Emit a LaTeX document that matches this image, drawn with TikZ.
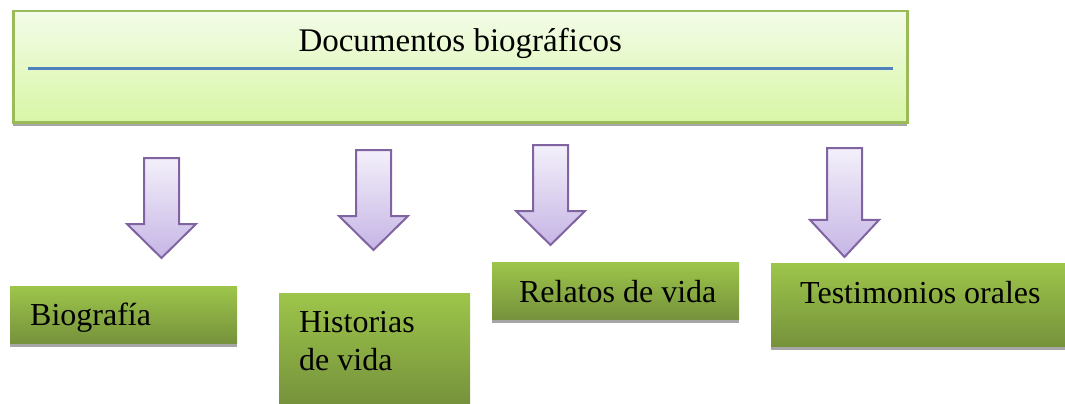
\documentclass[tikz,border=0pt]{standalone}
\usepackage{fontspec}
\setmainfont{Liberation Serif}
\usetikzlibrary{positioning,shadows}

\definecolor{verdeborde}{HTML}{9BBB59}
\definecolor{verdeclaroA}{HTML}{F3FCE8}
\definecolor{verdeclaroB}{HTML}{D8F6A6}
\definecolor{verdeA}{HTML}{9DC54A}
\definecolor{verdeB}{HTML}{76923C}
\definecolor{lilaborde}{HTML}{8064A2}
\definecolor{lilaA}{HTML}{F3F0FA}
\definecolor{lilaB}{HTML}{C6B5E5}
\definecolor{azullinea}{HTML}{4F81BD}
\definecolor{grissombra}{HTML}{A6A6A6}

\begin{document}
\begin{tikzpicture}[%
    x=1pt,
    y=1pt,
    sombra/.style={
      drop shadow={shadow xshift=0pt, shadow yshift=-4pt, fill=grissombra, opacity=1}
    },
    titulo/.style={
      rectangle,
      draw=verdeborde,
      line width=2.5pt,
      top color=verdeclaroA,
      bottom color=verdeclaroB,
      minimum width=894pt,
      minimum height=111pt,
      inner sep=0pt,
      anchor=north west,
      sombra
    },
    caja/.style={
      rectangle,
      top color=verdeA,
      bottom color=verdeB,
      inner sep=0pt,
      anchor=north west
    },
    texto/.style={
      inner sep=0pt,
      anchor=base west,
      align=left,
      font=\fontsize{32}{38}\selectfont
    },
    flecha/.pic={
      \path[draw=lilaborde, line width=2pt, top color=lilaA, bottom color=lilaB]
        (-17.5,0) -- (17.5,0) -- (17.5,-66) -- (34.5,-66) -- (0,-100)
        -- (-34.5,-66) -- (-17.5,-66) -- cycle;
    }
  ]
  \useasboundingbox (0,0) rectangle (1065,-404);

  % caja superior
  \node[titulo] (doc) at (12,-10) {};
  \node[texto, anchor=base, font=\fontsize{33}{38}\selectfont] (tdoc)
    at ([yshift=-42]doc.north) {Documentos biogr\'aficos};
  \draw[azullinea, line width=3pt]
    ([xshift=16,yshift=-59]doc.north west) -- ([xshift=-16,yshift=-59]doc.north east);

  % flechas
  \pic (f1) at (161.5,-158) {flecha};
  \pic (f2) at (373.5,-150) {flecha};
  \pic (f3) at (550.5,-145) {flecha};
  \pic[yscale=1.09] (f4) at (844.5,-148) {flecha};

  % cajas inferiores
  \node[caja, sombra, minimum width=227pt, minimum height=57pt] (bio) at (10,-286) {};
  \node[caja, minimum width=191pt, minimum height=111pt] (hist) at (279,-293) {};
  \node[caja, sombra, minimum width=247pt, minimum height=57pt] (rel) at (492,-262) {};
  \node[caja, sombra, minimum width=294pt, minimum height=83pt] (test) at (771,-263) {};

  \node[texto] (tbio) at ([shift={(20,-39)}]bio.north west) {Biograf\'ia};
  \node[texto] (thist) at ([shift={(20,-77)}]hist.north west) {Historias\\de vida};
  \node[texto, anchor=base] (trel) at ([shift={(2,-40)}]rel.north) {Relatos de vida};
  \node[texto] (ttest) at ([shift={(29,-40)}]test.north west) {Testimonios orales};

\end{tikzpicture}
\end{document}
